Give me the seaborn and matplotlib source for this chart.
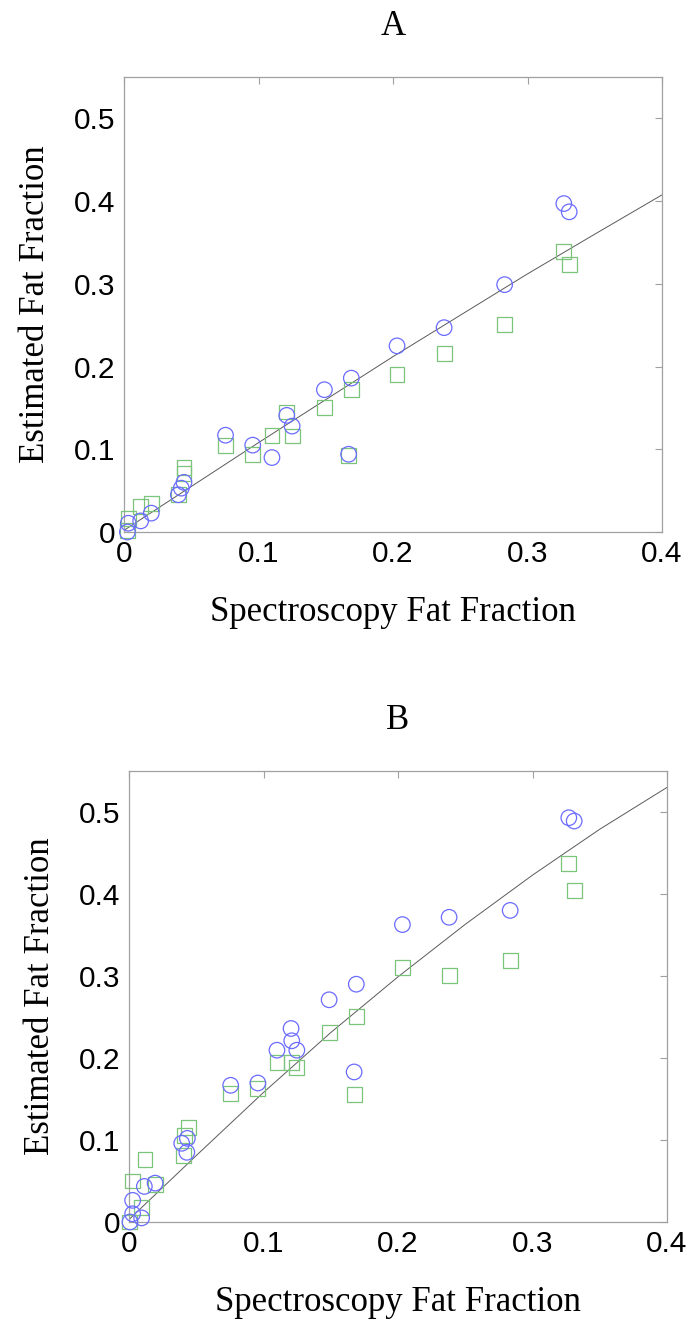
import matplotlib
matplotlib.use("Agg")
import matplotlib.pyplot as plt
import seaborn as sns
import pandas as pd

# ---------------- data ----------------
x_ticks = [0, 0.1, 0.2, 0.3, 0.4]
x_tick_labels = ["0", "0.1", "0.2", "0.3", "0.4"]
y_ticks = [0, 0.1, 0.2, 0.3, 0.4, 0.5]
y_tick_labels = ["0", "0.1", "0.2", "0.3", "0.4", "0.5"]

# Panel A
a_circ_x = [0.327, 0.331, 0.283, 0.238, 0.203, 0.169, 0.149, 0.121, 0.125, 0.0755,
            0.0957, 0.110, 0.167, 0.0446, 0.0426, 0.0404, 0.0203, 0.0124, 0.0032, 0.0025]
a_circ_y = [0.397, 0.387, 0.299, 0.247, 0.225, 0.186, 0.172, 0.141, 0.128, 0.117,
            0.105, 0.090, 0.094, 0.060, 0.053, 0.045, 0.0228, 0.0134, 0.0106, 0.000]
a_sq_x = [0.327, 0.331, 0.283, 0.238, 0.203, 0.169, 0.149, 0.121, 0.125, 0.0755,
          0.0957, 0.110, 0.167, 0.0446, 0.0446, 0.0404, 0.0203, 0.0124, 0.0032, 0.0025]
a_sq_y = [0.339, 0.323, 0.251, 0.216, 0.190, 0.172, 0.150, 0.145, 0.116, 0.105,
          0.094, 0.117, 0.092, 0.0777, 0.0707, 0.045, 0.034, 0.031, 0.0167, 0.002]
a_curve_x = [0, 0.05, 0.1, 0.15, 0.2, 0.25, 0.3, 0.35, 0.4]
a_curve_y = [0.002, 0.055, 0.108, 0.160, 0.212, 0.262, 0.312, 0.360, 0.4075]

# Panel B
b_circ_x = [0.327, 0.331, 0.2834, 0.238, 0.2033, 0.169, 0.1488, 0.1205, 0.121, 0.1248,
            0.110, 0.1674, 0.0756, 0.0958, 0.0434, 0.0392, 0.043, 0.0194, 0.0114, 0.0027,
            0.0027, 0.0094, 0.0007]
b_circ_y = [0.493, 0.489, 0.380, 0.3716, 0.3627, 0.290, 0.271, 0.236, 0.221, 0.2095,
            0.2095, 0.183, 0.1667, 0.1695, 0.102, 0.096, 0.085, 0.0474, 0.0434, 0.0264,
            0.010, 0.005, 0.000]
b_sq_x = [0.327, 0.331, 0.2834, 0.238, 0.2033, 0.169, 0.1488, 0.1208, 0.110, 0.1248,
          0.1674, 0.0756, 0.0958, 0.0442, 0.041, 0.0405, 0.0119, 0.020, 0.0027, 0.0094,
          0.0007]
b_sq_y = [0.437, 0.404, 0.319, 0.301, 0.310, 0.251, 0.231, 0.195, 0.195, 0.188,
          0.155, 0.157, 0.163, 0.115, 0.105, 0.081, 0.076, 0.046, 0.050, 0.018,
          0.000]
b_curve_x = [0, 0.05, 0.1, 0.15, 0.2, 0.25, 0.3, 0.35, 0.4]
b_curve_y = [0.003, 0.081, 0.158, 0.231, 0.299, 0.363, 0.423, 0.479, 0.530]

panel_titles = ["A", "B"]
x_label = "Spectroscopy Fat Fraction"
y_label = "Estimated Fat Fraction"

# ---------------- style ----------------
sns.set_theme(style="white")
plt.rcParams["font.family"] = ["Liberation Sans", "DejaVu Sans"]
plt.rcParams["text.color"] = "black"
plt.rcParams["axes.labelcolor"] = "black"

BLUE = "#6b6bff"
GREEN = "#7cc47c"
CURVE = "#5a5a5a"
AXC = "#a0a0a0"
SERIF = ["Liberation Serif", "DejaVu Serif"]

fig = plt.figure(figsize=(6.9, 13.25), dpi=100)
W, H = 690.0, 1325.0

def px_axes(left, right, top, bottom):
    return fig.add_axes([left / W, 1 - bottom / H, (right - left) / W, (bottom - top) / H])

axA = px_axes(124, 662, 77, 532)
axB = px_axes(129, 667, 771, 1222)

panels = [
    (axA, a_circ_x, a_circ_y, a_sq_x, a_sq_y, a_curve_x, a_curve_y),
    (axB, b_circ_x, b_circ_y, b_sq_x, b_sq_y, b_curve_x, b_curve_y),
]

for (ax, cx, cy, sx, sy, lx, ly), title in zip(panels, panel_titles):
    curve = pd.DataFrame({"x": lx, "y": ly})
    sns.lineplot(data=curve, x="x", y="y", ax=ax, color=CURVE, linewidth=0.7, zorder=2)
    circ = pd.DataFrame({"x": cx, "y": cy})
    sq = pd.DataFrame({"x": sx, "y": sy})
    sns.scatterplot(data=sq, x="x", y="y", ax=ax, marker="s", s=115,
                    facecolor="none", edgecolor=GREEN, linewidth=0.9, zorder=3)
    sns.scatterplot(data=circ, x="x", y="y", ax=ax, marker="o", s=125,
                    facecolor="none", edgecolor=BLUE, linewidth=0.9, zorder=4)
    ax.set_xlim(0, 0.4)
    ax.set_ylim(0, 0.55)
    ax.set_xticks(x_ticks)
    ax.set_xticklabels(x_tick_labels)
    ax.set_yticks(y_ticks)
    ax.set_yticklabels(y_tick_labels)
    ax.tick_params(direction="in", length=5, width=0.8, color=AXC,
                   top=True, right=True, labelsize=21.5, labelcolor="black", pad=6)
    for sp in ax.spines.values():
        sp.set_color(AXC)
        sp.set_linewidth(0.9)
        sp.set_visible(True)
    ax.set_xlabel(x_label, fontsize=25, family=SERIF, labelpad=20, color="black")
    ax.set_ylabel(y_label, fontsize=25, family=SERIF, labelpad=16, color="black")
    ax.set_title(title, fontsize=25, family=SERIF, pad=30, color="black")
    for coll in ax.collections:
        coll.set_clip_on(False)

fig.savefig("out.png", dpi=100, facecolor="white")
